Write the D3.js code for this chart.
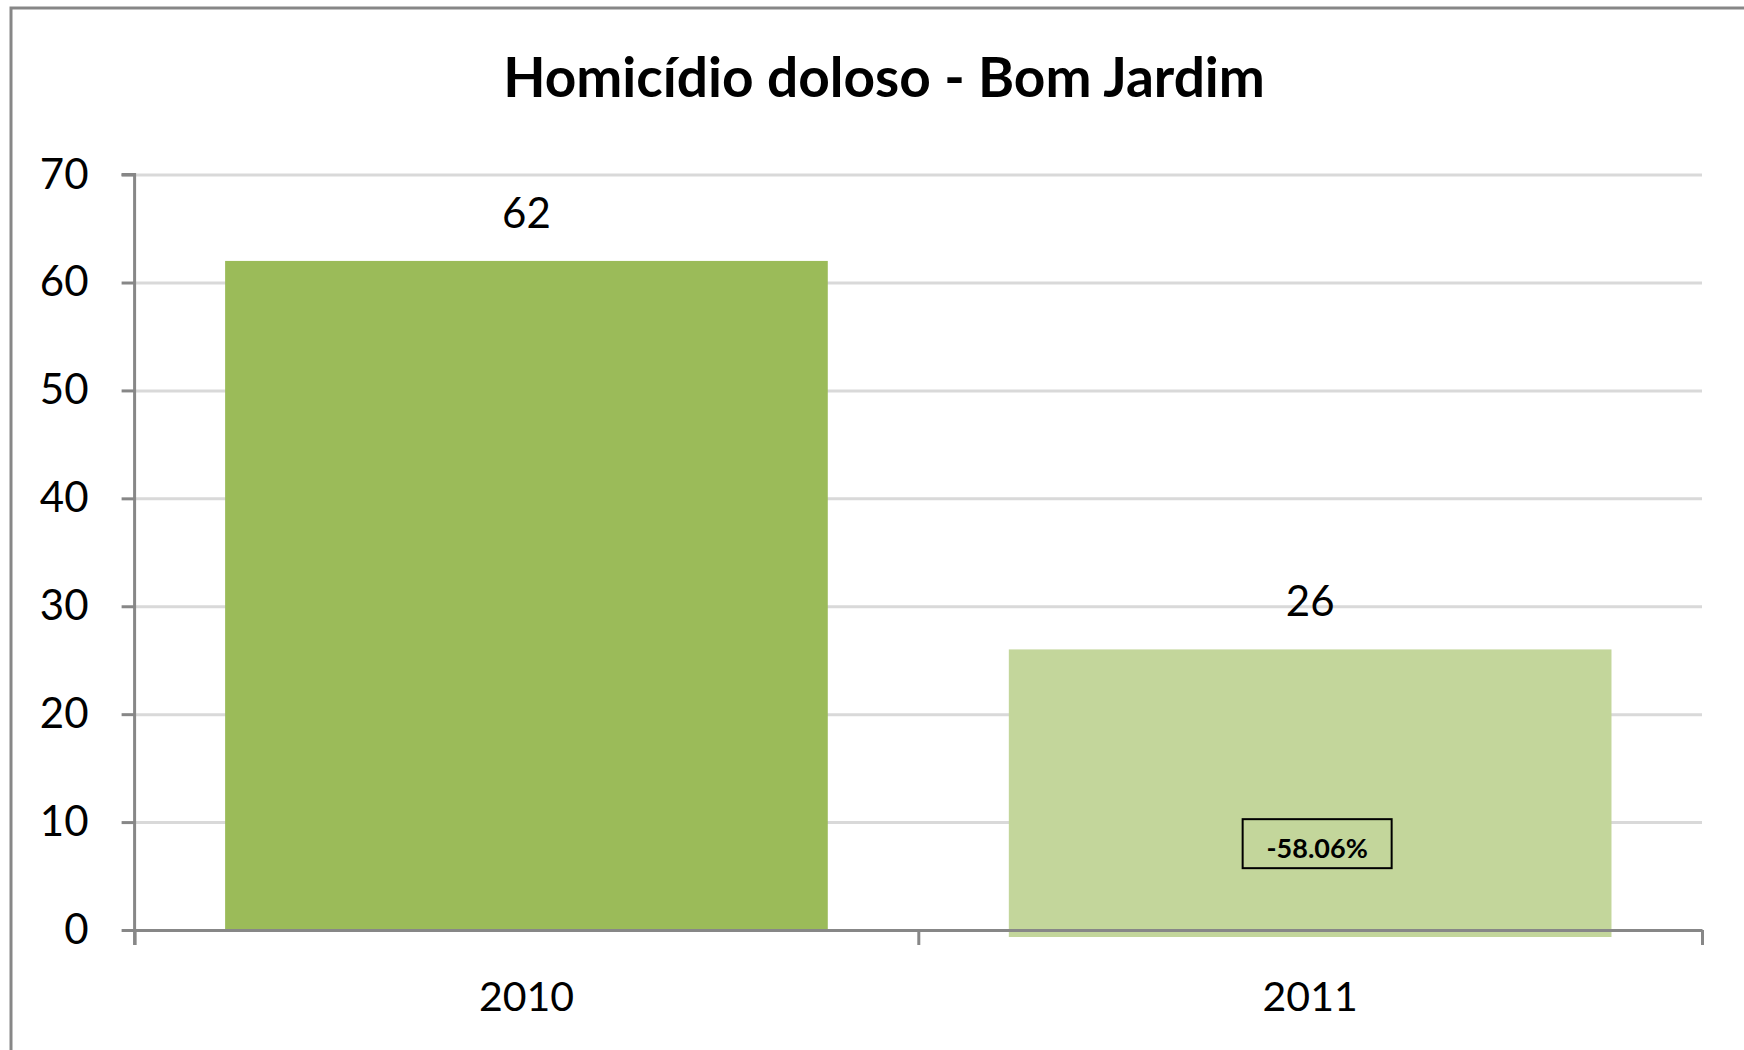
<!DOCTYPE html>
<html>
<head>
<meta charset="utf-8">
<script src="https://cdn.jsdelivr.net/npm/d3@7"></script>
<style>
  body { margin: 0; background: #fff; }
  svg { display: block; font-family: Lato, "Open Sans", sans-serif; }
</style>
</head>
<body>
<svg id="chart" width="1744" height="1050"></svg>
<script>
// chart data
var title = "Homicídio doloso - Bom Jardim";
var years = ["2010", "2011"];
var values = [62, 26];
var barColors = ["#9BBB59", "#C3D69B"];
var yTicks = [0, 10, 20, 30, 40, 50, 60, 70];
var changeLabel = "-58.06%";

var svg = d3.select("#chart");
var width = 1744, height = 1050;

// outer frame (right and bottom edges are cut off in the original)
svg.append("rect")
    .attr("x", 11).attr("y", 8)
    .attr("width", width + 20).attr("height", height + 20)
    .style("fill", "#fff")
    .style("stroke", "#878787")
    .style("stroke-width", 3);

var plotLeft = 134.6, plotRight = 1702, plotTop = 174.6, plotBottom = 930;

var y = d3.scaleLinear().domain([0, 70]).range([plotBottom, plotTop]);
var x = d3.scaleBand().domain(years).range([plotLeft, plotRight])
    .paddingInner(0.231).paddingOuter(0.1155);

// title
svg.append("text")
    .attr("x", 884).attr("y", 97)
    .attr("text-anchor", "middle")
    .style("font-size", "55px")
    .style("font-weight", "bold")
    .style("fill", "#000")
    .text(title);

// gridlines
var grid = svg.append("g")
    .attr("transform", "translate(" + plotLeft + ",0)")
    .call(d3.axisLeft(y).tickValues(yTicks.slice(1)).tickSize(-(plotRight - plotLeft)).tickFormat(""));
grid.select(".domain").remove();
grid.selectAll("line").style("stroke", "#D9D9D9").style("stroke-width", 3);

// bars
svg.selectAll("rect.bar")
    .data(values)
    .enter()
    .append("rect")
    .attr("class", "bar")
    .attr("x", function (d, i) { return x(years[i]); })
    .attr("y", function (d) { return y(d); })
    .attr("width", x.bandwidth())
    .attr("height", function (d, i) { return y(0) - y(d) + (i == 1 ? 7 : 0); })
    .style("fill", function (d, i) { return barColors[i]; });

// value labels
svg.selectAll("text.value")
    .data(values)
    .enter()
    .append("text")
    .attr("class", "value")
    .attr("x", function (d, i) { return x(years[i]) + x.bandwidth() / 2; })
    .attr("y", function (d) { return y(d) - 33; })
    .attr("text-anchor", "middle")
    .style("font-size", "42px")
    .style("fill", "#000")
    .text(function (d) { return d; });

// y axis
var yAxis = svg.append("g")
    .attr("transform", "translate(" + plotLeft + ",0)")
    .call(d3.axisLeft(y).tickValues(yTicks).tickSize(13).tickPadding(33));
yAxis.select(".domain").attr("d", "M-13," + plotTop + "H0V" + (plotBottom + 15));
yAxis.selectAll("line, .domain").style("stroke", "#878787").style("stroke-width", 3);
yAxis.selectAll("text")
    .style("font-size", "42px")
    .style("font-family", "Lato, sans-serif")
    .style("fill", "#000");

// x axis line and category boundary ticks
var xb = d3.scaleLinear().domain([0, years.length]).range([plotLeft, plotRight]);
var xAxis = svg.append("g")
    .attr("transform", "translate(0," + plotBottom + ")")
    .call(d3.axisBottom(xb).ticks(years.length).tickSize(15).tickFormat("").tickSizeOuter(0));
xAxis.selectAll("line, .domain").style("stroke", "#878787").style("stroke-width", 3);

// category labels
var xLabels = svg.append("g")
    .attr("transform", "translate(0," + plotBottom + ")")
    .call(d3.axisBottom(x).tickSize(0).tickPadding(52));
xLabels.select(".domain").remove();
xLabels.selectAll("text")
    .style("font-size", "41px")
    .style("font-family", "Lato, sans-serif")
    .style("fill", "#000");

// change box inside the 2011 bar
var bx = x(years[1]) + x.bandwidth() / 2 + 7;
var by = y(8);
var box = svg.append("g").attr("transform", "translate(" + bx + "," + by + ")");
box.append("rect")
    .attr("x", -74.5).attr("y", -24.5)
    .attr("width", 149).attr("height", 49)
    .style("fill", "none")
    .style("stroke", "#000")
    .style("stroke-width", 2);
box.append("text")
    .attr("y", 14)
    .attr("text-anchor", "middle")
    .style("font-size", "27px")
    .style("font-weight", "bold")
    .style("fill", "#000")
    .text(changeLabel);
</script>
</body>
</html>
